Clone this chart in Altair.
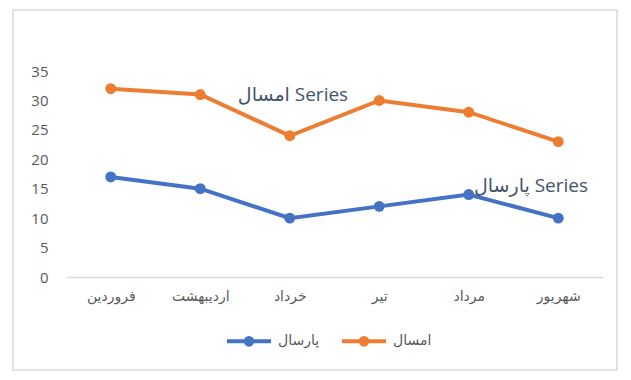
import altair as alt
import pandas as pd

months = ["فروردین", "اردیبهشت", "خرداد", "تیر", "مرداد", "شهریور"]
this_year = [32, 31, 24, 30, 28, 23]      # امسال
last_year = [17, 15, 10, 12, 14, 10]      # پارسال
series_names = ["پارسال", "امسال"]
series_colors = ["#4472C4", "#ED7D31"]
y_ticks = [0, 5, 10, 15, 20, 25, 30, 35]
annotations = ["امسال Series", "پارسال Series"]

FONT = "Open Sans, DejaVu Sans, sans-serif"

df = pd.DataFrame({
    "month": months * 2,
    "idx": list(range(len(months))) * 2,
    "value": last_year + this_year,
    "series": [series_names[0]] * len(months) + [series_names[1]] * len(months),
})

legend_symbol = "M-1,0H1M0.15,0A0.15,0.15 0 1 1 -0.15,0A0.15,0.15 0 1 1 0.15,0"

lines = alt.Chart(df).mark_line(
    strokeWidth=4,
    point=alt.OverlayMarkDef(filled=True, size=120, opacity=1),
).encode(
    x=alt.X("month:N", sort=months,
            scale=alt.Scale(type="point", padding=0.5),
            axis=alt.Axis(title=None, labelAngle=0, ticks=False, grid=False,
                          domainColor="#D9D9D9", domainWidth=1.5,
                          labelPadding=12, labelFontSize=14, labelColor="#595959",
                          labelFont=FONT)),
    y=alt.Y("value:Q", scale=alt.Scale(domain=[0, 35], nice=False),
            axis=alt.Axis(title=None, values=y_ticks, domain=False, ticks=False,
                          grid=False, labelPadding=18, labelFontSize=15,
                          labelColor="#595959", labelFont=FONT)),
    color=alt.Color("series:N",
                    scale=alt.Scale(domain=series_names, range=series_colors),
                    legend=alt.Legend(title=None, orient="none", direction="horizontal",
                                      legendX=159, legendY=246,
                                      symbolType=legend_symbol, symbolSize=1936,
                                      symbolStrokeWidth=4,
                                      labelFontSize=14, labelColor="#595959",
                                      labelFont=FONT, labelOffset=5,
                                      columnPadding=14)),
    order=alt.Order("idx:Q"),
)

ann_df1 = pd.DataFrame({"t": [annotations[0]]})
ann_df2 = pd.DataFrame({"t": [annotations[1]]})
ann1 = alt.Chart(ann_df1).mark_text(fontSize=19, color="#44546A", font=FONT,
                                    align="center", baseline="middle").encode(
    text="t:N", x=alt.value(227), y=alt.value(24))
ann2 = alt.Chart(ann_df2).mark_text(fontSize=19, color="#44546A", font=FONT,
                                    align="center", baseline="middle").encode(
    text="t:N", x=alt.value(465), y=alt.value(115))

border = alt.Chart(pd.DataFrame({"b": [0]})).mark_rect(
    fill=None, stroke="#D9D9D9", strokeWidth=1.5).encode(
    x=alt.value(-53), x2=alt.value(551), y=alt.value(-61), y2=alt.value(299))

chart = alt.layer(border, lines, ann1, ann2).properties(
    width=537, height=206,
    padding={"left": 58, "top": 63, "right": 20, "bottom": 95},
    autosize=alt.AutoSizeParams(type="none"),
    background="white",
).configure_view(stroke=None)

chart.save("out.html", embed_options={"renderer": "svg", "actions": False})
